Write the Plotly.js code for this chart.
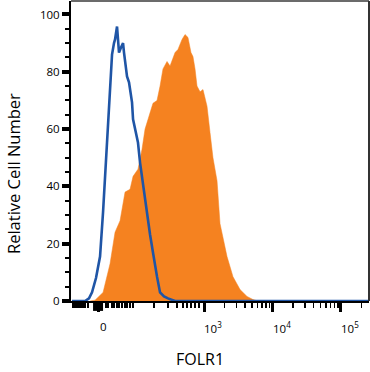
<!DOCTYPE html>
<html><head><meta charset="utf-8">
<script src="https://cdn.plot.ly/plotly-3.0.1.min.js"></script>
<style>html,body{margin:0;padding:0;background:#fff;}#chart{width:370px;height:372px;}</style>
</head><body><div id="chart"></div>
<script>
// x values are in biexponential display units (10^3 -> 3, 10^4 -> 4, 10^5 -> 5; "0" -> 1.453)
var controlX = [1.073,1.263,1.321,1.365,1.423,1.482,1.526,1.555,1.584,1.613,1.642,1.657,1.686,1.701,1.730,1.745,1.759,1.788,1.818,1.832,1.861,1.876,1.905,1.934,1.949,1.964,1.993,2.022,2.036,2.066,2.109,2.168,2.212,2.255,2.285,2.314,2.358,2.416,2.474,2.577,5.409];
var controlY = [0,0,0.9,3,8,15.5,31,44,56.4,70,81.5,86,90,91.3,95.8,91.3,86.7,88.5,90,86.7,81.5,78.4,76.3,72,69.3,63.4,60,57.4,55.3,48.3,40.7,31,23.2,16.9,12,8.5,3,1.6,0.9,0,0];

var folr1X = [1.336,1.409,1.526,1.628,1.701,1.774,1.847,1.920,1.964,2.036,2.095,2.139,2.255,2.314,2.358,2.401,2.460,2.504,2.577,2.620,2.679,2.723,2.766,2.810,2.839,2.869,2.898,2.942,2.985,3.044,3.088,3.131,3.190,3.234,3.336,3.423,3.526,3.628,3.715,3.788];
var folr1Y = [0,0.3,3,13,24,28,38,39,43.5,46,53,60,69,70,75,81,83.6,82,86.7,87.8,91.3,93,92,86.7,85.3,81,75,73,73.8,68,58.8,50,42,27,15.5,8.5,4,1.6,0.5,0];

var xTickVals = [1.453, 3, 4, 5];
var xTickText = ["0", "10<sup>3</sup>", "10<sup>4</sup>", "10<sup>5</sup>"];
var xMinorVals = [1.088,1.117,1.146,1.175,1.204,1.234,1.263,1.307,
  1.569,1.599,1.657,1.686,1.730,1.759,1.803,1.847,1.876,1.920,1.964,
  2.270,2.474,2.606,2.693,2.752,2.810,2.869,2.927,
  3.301,3.477,3.602,3.699,3.778,3.845,3.903,3.954,
  4.301,4.477,4.602,4.699,4.778,4.845,4.903,4.954,5.301];
var yTickVals = [0, 20, 40, 60, 80, 100];
var xTitle = "FOLR1";
var yTitle = "Relative Cell Number";

var font = "Open Sans, Noto Sans, sans-serif";

var traces = [
  {x: folr1X, y: folr1Y, type: 'scatter', mode: 'lines', fill: 'tozeroy',
   fillcolor: '#f58220', line: {color: '#f58220', width: 0.5}, hoverinfo: 'skip'},
  {x: controlX, y: controlY, type: 'scatter', mode: 'lines',
   line: {color: '#1f55a6', width: 2.6}, hoverinfo: 'skip'}
];

var annotations = xTickVals.map(function(v, i) {
  return {x: v, y: 0, xref: 'x', yref: 'paper', text: xTickText[i], showarrow: false,
    xanchor: 'center', yanchor: 'top', xshift: (i === 0 ? 5 : 9), yshift: -16,
    font: {family: font, size: 11.5, color: '#000'}};
});
annotations.push({x: 200, y: 359, xref: 'paper', yref: 'paper', text: xTitle, showarrow: false,
  font: {family: font, size: 16, color: '#000'}, xanchor: 'center', yanchor: 'middle'});
annotations.push({x: 0, y: 0, xref: 'paper', yref: 'paper', text: yTitle, showarrow: false,
  textangle: -90, font: {family: font, size: 16.5, color: '#000'}, xanchor: 'center', yanchor: 'middle'});

// convert pixel placement of the two title annotations into paper coords
var L = 71, R = 1, T = 1, B = 71, W = 370, H = 372;
var pw = W - L - R, ph = H - T - B;
annotations[annotations.length - 2].x = (200 - L) / pw;
annotations[annotations.length - 2].y = (H - B - 359) / ph;
annotations[annotations.length - 1].x = (13 - L) / pw;
annotations[annotations.length - 1].y = (H - B - 174) / ph;

var layout = {
  width: W, height: H,
  margin: {l: L, r: R, t: T, b: B},
  paper_bgcolor: '#fff', plot_bgcolor: '#fff',
  showlegend: false,
  font: {family: font, color: '#000'},
  xaxis: {
    range: [1.058, 5.409], showgrid: false, zeroline: false,
    showline: true, linecolor: '#000', linewidth: 2,
    tickmode: 'array', tickvals: xTickVals, showticklabels: false,
    ticks: 'outside', ticklen: 9, tickwidth: 3, tickcolor: '#000',
    minor: {tickmode: 'array', tickvals: xMinorVals, ticks: 'outside', ticklen: 5, tickwidth: 1.5, tickcolor: '#000', showgrid: false},
    fixedrange: true
  },
  yaxis: {
    range: [0, 104.7], showgrid: false, zeroline: false,
    showline: true, linecolor: '#000', linewidth: 2,
    tickmode: 'array', tickvals: yTickVals,
    ticks: 'outside', ticklen: 7, tickwidth: 4, tickcolor: '#000',
    minor: {dtick: 5, ticks: 'outside', ticklen: 4, tickwidth: 2, tickcolor: '#000', showgrid: false},
    tickfont: {family: font, size: 11.5, color: '#000'},
    fixedrange: true
  },
  annotations: annotations,
  shapes: [
    {type: 'rect', xref: 'x', yref: 'paper', x0: 1.38, x1: 1.526, y0: 0, y1: -0.033,
     fillcolor: '#000', line: {width: 0}},
    {type: 'line', xref: 'paper', yref: 'paper', x0: 0, x1: 1, y0: 1, y1: 1,
     line: {color: '#6b6b6b', width: 2}},
    {type: 'line', xref: 'paper', yref: 'paper', x0: 1, x1: 1, y0: 0, y1: 1,
     line: {color: '#333', width: 2}}
  ]
};

Plotly.newPlot('chart', traces, layout, {staticPlot: true, displayModeBar: false});
</script></body></html>
